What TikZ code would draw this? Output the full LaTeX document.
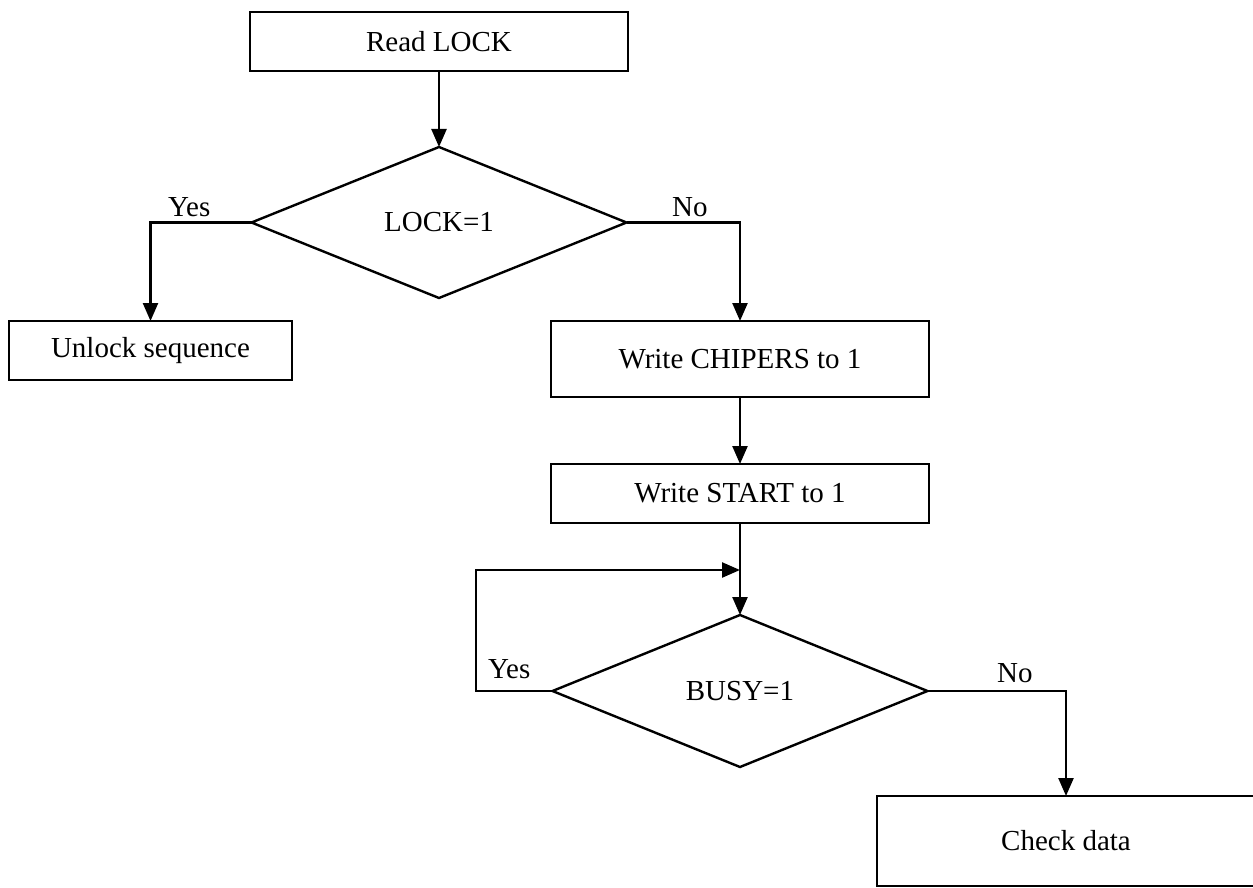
\documentclass[tikz,border=0pt]{standalone}
\usepackage{fontspec}
\setmainfont{Liberation Serif}
\usetikzlibrary{shapes.geometric,arrows.meta}
\begin{document}
\begin{tikzpicture}[x=1pt,y=-1pt,
  every node/.style={font=\fontsize{29}{34}\selectfont},
  box/.style={draw,line width=2.4pt,rectangle,inner sep=0pt,outer sep=0pt},
  decision/.style={draw,line width=2.4pt,diamond,inner sep=0pt,outer sep=0pt,aspect=2.48},
  lbl/.style={inner sep=0pt,anchor=base west},
  arr/.style={line width=2.4pt,-{Triangle[length=18pt,width=15pt]}}]
\useasboundingbox (0,0) rectangle (1253,888);
\node[box,minimum width=378pt,minimum height=59pt] (read) at (439,41.5) {Read LOCK};
\node[decision,minimum width=375pt,minimum height=151pt] (d1) at (439,222.5) {LOCK=1};
\node[box,minimum width=283pt,minimum height=59pt] (unlock) at (150.5,350.5) {Unlock sequence};
\node[box,minimum width=378pt,minimum height=76pt] (chip) at (740,359) {Write CHIPERS to 1};
\node[box,minimum width=378pt,minimum height=59pt] (start) at (740,493.5) {Write START to 1};
\node[decision,minimum width=375pt,minimum height=152pt] (d2) at (740,691) {BUSY=1};
\node[box,minimum width=378pt,minimum height=90pt] (check) at (1066,841) {Check data};
\coordinate (lp) at (740,570);
\coordinate (lpl) at (476,570);
\draw[arr] (read.south) -- (d1.north);
\draw[arr] (d1.west) -| (unlock.north);
\draw[arr] (d1.east) -| (chip.north);
\draw[arr] (chip.south) -- (start.north);
\draw[arr] (start.south) -- (d2.north);
\draw[arr] (d2.west) -| (lpl) -- (lp);
\draw[arr] (d2.east) -| (check.north);
\node[lbl] (yes1) at (168,216) {Yes};
\node[lbl] (no1) at (672,216) {No};
\node[lbl] (yes2) at (488,678) {Yes};
\node[lbl] (no2) at (997,682) {No};
\end{tikzpicture}
\end{document}
